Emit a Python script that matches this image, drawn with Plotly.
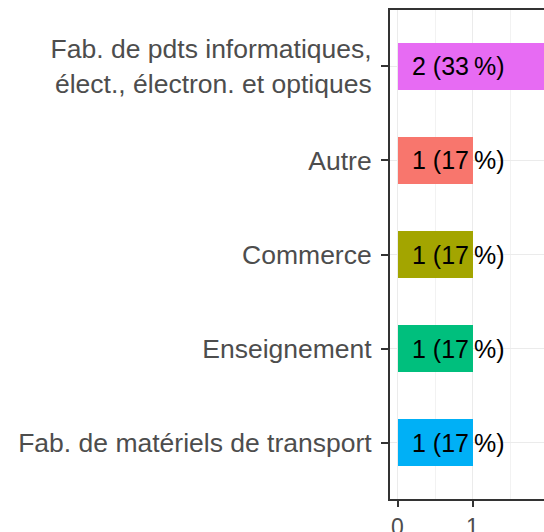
import plotly.graph_objects as go

categories = ["Fab. de pdts informatiques,<br>élect., électron. et optiques",
              "Autre", "Commerce", "Enseignement", "Fab. de matériels de transport"]
values = [2, 1, 1, 1, 1]
labels = ["2 (33\u202f%)", "1 (17\u202f%)", "1 (17\u202f%)", "1 (17\u202f%)", "1 (17\u202f%)"]
colors = ["#E76BF3", "#F8766D", "#A3A500", "#00BF7D", "#00B0F6"]
x_ticks = [0, 1, 2]

fig = go.Figure()
fig.add_trace(go.Bar(
    y=categories, x=values, orientation="h", marker=dict(color=colors, line=dict(width=0)),
    width=0.5, showlegend=False, hoverinfo="skip"))

for c, lab in zip(categories, labels):
    fig.add_annotation(x=0.16, y=c, xref="x", yref="y", text=lab, showarrow=False,
                       xanchor="left", yanchor="middle",
                       font=dict(family="Liberation Sans, Arial", size=25, color="black"))

# tick label "2" partially visible beyond the panel edge
fig.add_annotation(x=2, y=0, xref="x", yref="paper", text=str(x_ticks[2]), showarrow=False,
                   xanchor="center", yanchor="top", yshift=-6,
                   font=dict(family="Liberation Sans, Arial", size=23, color="#4D4D4D"))

fig.update_layout(
    width=544, height=546,
    margin=dict(l=390, r=0, t=10, b=47),
    plot_bgcolor="white", paper_bgcolor="white",
    bargap=0,
)
fig.update_xaxes(
    range=[-0.1, 1.953], tickvals=x_ticks, ticktext=[str(v) for v in x_ticks],
    showgrid=True, gridcolor="#EBEBEB", gridwidth=1.2,
    minor=dict(tickvals=[0.5, 1.5], showgrid=True, gridcolor="#F2F2F2", gridwidth=1, ticks=""),
    showline=True, linecolor="#333333", linewidth=2, mirror=True,
    ticks="outside", ticklen=6, tickwidth=1.5, tickcolor="#333333",
    tickfont=dict(family="Liberation Sans, Arial", size=23, color="#4D4D4D"),
    zeroline=False, fixedrange=True,
)
fig.update_yaxes(
    categoryorder="array", categoryarray=categories[::-1],
    range=[-0.6, 4.6],
    showgrid=True, gridcolor="#EBEBEB", gridwidth=1.2,
    showline=True, linecolor="#333333", linewidth=2, mirror=False,
    ticks="outside", ticklen=7, tickwidth=1.5, tickcolor="#333333",
    tickfont=dict(family="Liberation Sans, Arial", size=26.5, color="#4D4D4D"),
    ticklabelstandoff=4,
    zeroline=False, fixedrange=True,
)

fig.write_html(
    "out.html",
    config={"displayModeBar": False},
    post_script="document.body.style.margin='0';document.body.style.overflow='hidden';",
)
